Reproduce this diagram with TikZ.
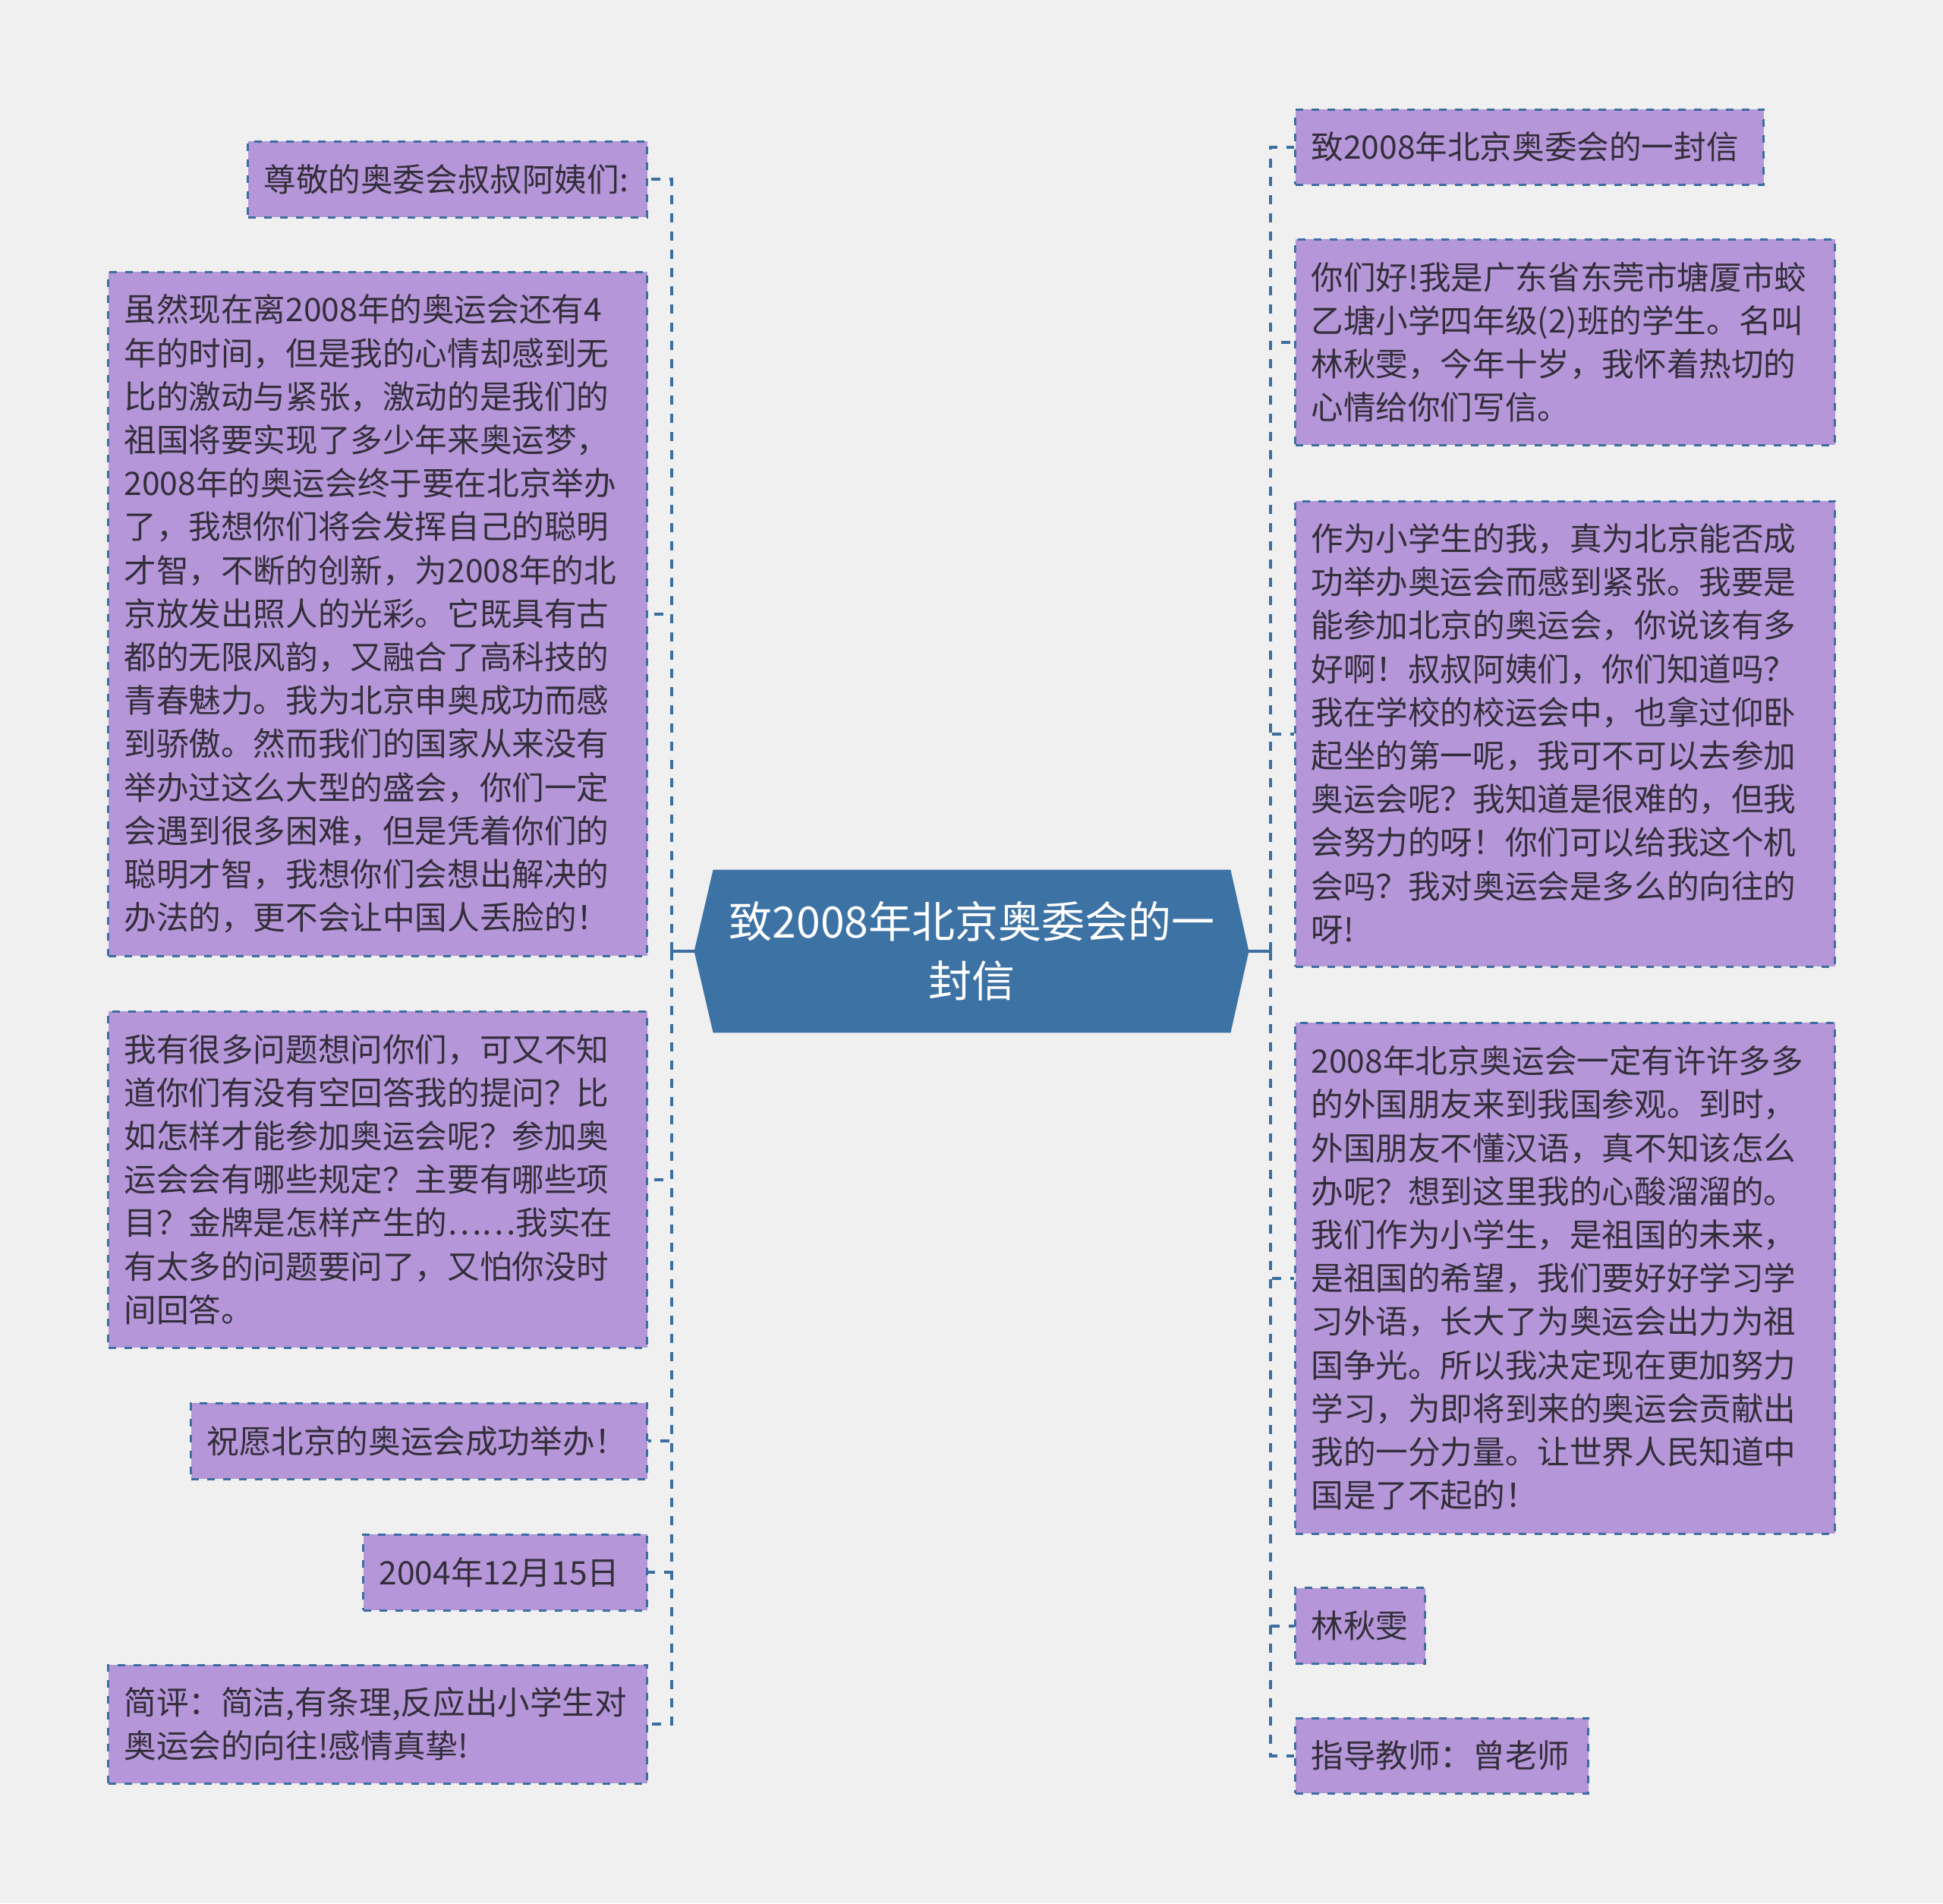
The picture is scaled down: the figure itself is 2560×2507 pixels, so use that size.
\documentclass[tikz,border=0pt]{standalone}
\usepackage{fontspec}
\setmainfont{Noto Sans CJK SC}
\usetikzlibrary{calc, backgrounds}
\definecolor{fondo}{HTML}{F0F0F0}
\definecolor{azul}{HTML}{3C6E9F}
\definecolor{azulraiz}{HTML}{3D72A4}
\definecolor{lila}{HTML}{B596D9}
\definecolor{texto}{HTML}{332E3A}

\begin{document}
\begin{tikzpicture}[
  x=0.5pt, y=-0.5pt,
  font=\fontsize{21.3pt}{28.6pt}\selectfont,
  raiz/.style={rectangle, inner sep=0pt, minimum width=340.5pt, minimum height=107pt,
               text width=330pt, align=center, text=white,
               font=\fontsize{28.5pt}{39pt}\selectfont},
  hoja/.style={rectangle, draw=azul, line width=1.5pt, dash pattern=on 5pt off 5.5pt,
               fill=lila, text=texto, align=left, inner xsep=10.5pt, inner ysep=6pt},
  hojaizq/.style={hoja, anchor=east},
  hojader/.style={hoja, anchor=west},
  enlace/.style={azul, line width=2pt, dash pattern=on 6pt off 6pt},
  tallo/.style={azul, line width=2pt},
]
\useasboundingbox (0,0) rectangle (2560,2507);

% --- Tema central ---
\node[raiz] (root) at (1280.5,1253) {致2008年北京奥委会的一\\封信};
\coordinate (rootW) at ($(root.west)+(-25,0)$);
\coordinate (rootE) at ($(root.east)+(24,0)$);

% --- Rama izquierda ---
\node[hojaizq, text width=242pt, minimum height=50pt] (l1) at (854,236) {尊敬的奥委会叔叔阿姨们:};
\node[hojaizq, text width=334pt, minimum height=450.5pt] (l2) at (854,808.5) {虽然现在离2008年的奥运会还有4\\年的时间，但是我的心情却感到无\\比的激动与紧张，激动的是我们的\\祖国将要实现了多少年来奥运梦，\\2008年的奥运会终于要在北京举办\\了，我想你们将会发挥自己的聪明\\才智，不断的创新，为2008年的北\\京放发出照人的光彩。它既具有古\\都的无限风韵，又融合了高科技的\\青春魅力。我为北京申奥成功而感\\到骄傲。然而我们的国家从来没有\\举办过这么大型的盛会，你们一定\\会遇到很多困难，但是凭着你们的\\聪明才智，我想你们会想出解决的\\办法的，更不会让中国人丢脸的！};
\node[hojaizq, text width=334pt, minimum height=221.5pt] (l3) at (854,1553.5) {我有很多问题想问你们，可又不知\\道你们有没有空回答我的提问？比\\如怎样才能参加奥运会呢？参加奥\\运会会有哪些规定？主要有哪些项\\目？金牌是怎样产生的……我实在\\有太多的问题要问了，又怕你没时\\间回答。};
\node[hojaizq, text width=279.5pt, minimum height=50pt] (l4) at (854,1898) {祝愿北京的奥运会成功举办！};
\node[hojaizq, text width=166pt, minimum height=50pt] (l5) at (854,2071) {2004年12月15日};
\node[hojaizq, text width=334pt, minimum height=78pt] (l6) at (854,2271) {简评：简洁,有条理,反应出小学生对\\奥运会的向往!感情真挚!};

% --- Rama derecha ---
\node[hojader, text width=287.5pt, minimum height=49.5pt] (r1) at (1705,193.5) {致2008年北京奥委会的一封信};
\node[hojader, text width=334.5pt, minimum height=135.5pt] (r2) at (1705,450.5) {你们好!我是广东省东莞市塘厦市蛟\\乙塘小学四年级(2)班的学生。名叫\\林秋雯，今年十岁，我怀着热切的\\心情给你们写信。};
\node[hojader, text width=334.5pt, minimum height=306.5pt] (r3) at (1705,966.5) {作为小学生的我，真为北京能否成\\功举办奥运会而感到紧张。我要是\\能参加北京的奥运会，你说该有多\\好啊！叔叔阿姨们，你们知道吗？\\我在学校的校运会中，也拿过仰卧\\起坐的第一呢，我可不可以去参加\\奥运会呢？我知道是很难的，但我\\会努力的呀！你们可以给我这个机\\会吗？我对奥运会是多么的向往的\\呀!};
\node[hojader, text width=334.5pt, minimum height=336.5pt] (r4) at (1705,1683.5) {2008年北京奥运会一定有许许多多\\的外国朋友来到我国参观。到时，\\外国朋友不懂汉语，真不知该怎么\\办呢？想到这里我的心酸溜溜的。\\我们作为小学生，是祖国的未来，\\是祖国的希望，我们要好好学习学\\习外语，长大了为奥运会出力为祖\\国争光。所以我决定现在更加努力\\学习，为即将到来的奥运会贡献出\\我的一分力量。让世界人民知道中\\国是了不起的！};
\node[hojader, text width=64.5pt, minimum height=50pt] (r5) at (1705,2141.5) {林秋雯};
\node[hojader, text width=172pt, minimum height=49.5pt] (r6) at (1705,2312.5) {指导教师：曾老师};

% --- Troncos ---
\coordinate (lt) at (885,1253);
\coordinate (rt) at (1674,1253);
\draw[tallo] (rootW) -- (lt);
\draw[tallo] (rootE) -- (rt);
\foreach \n in {l1,l2,l3,l4,l5,l6}
  \draw[enlace] (lt) |- (\n.east);
\foreach \n in {r1,r2,r3,r4,r5,r6}
  \draw[enlace] (rt) |- (\n.west);

% --- Fondo y forma del tema central ---
\begin{scope}[on background layer]
  \fill[fondo] (0,0) rectangle (2560,2507);
  \fill[azulraiz] (root.north west) -- (rootW) -- (root.south west)
    -- (root.south east) -- (rootE) -- (root.north east) -- cycle;
\end{scope}

\end{tikzpicture}
\end{document}
